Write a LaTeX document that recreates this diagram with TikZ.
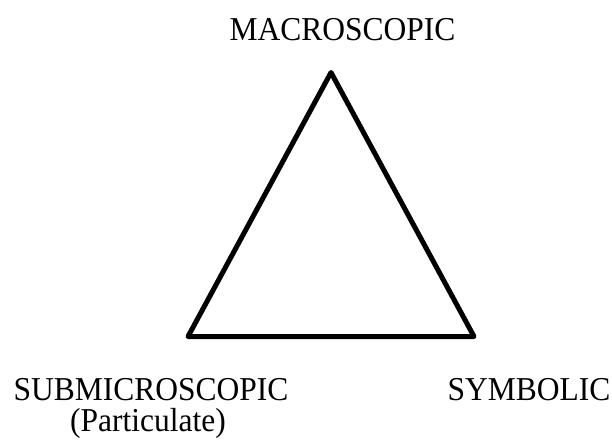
\documentclass[tikz,border=0pt]{standalone}
\usepackage{graphicx}
\usepackage{fontspec}
\setmainfont{Liberation Serif}
\newcommand{\tallt}[1]{\scalebox{1}[1.06]{#1}}
\begin{document}
\begin{tikzpicture}[x=1pt,y=-1pt,
  lbl/.style={anchor=base,inner sep=0pt,font=\fontsize{31.5}{32}\selectfont},
  tri/.style={line width=5pt,line join=round}]
\useasboundingbox (0,0) rectangle (612,439);
\coordinate (apex) at (331,72.5);
\coordinate (bl) at (188,336.5);
\coordinate (br) at (474,336.5);
\draw[tri] (apex) -- (bl) -- (br) -- cycle;
\node[lbl] (macro) at (342.5,40) {\tallt{MACROSCOPIC}};
\node[lbl] (sub) at (151,400) {\tallt{SUBMICROSCOPIC}};
\node[lbl] (part) at (148,431) {\tallt{(Particulate)}};
\node[lbl] (sym) at (529,400) {\tallt{SYMBOLIC}};
\end{tikzpicture}
\end{document}
